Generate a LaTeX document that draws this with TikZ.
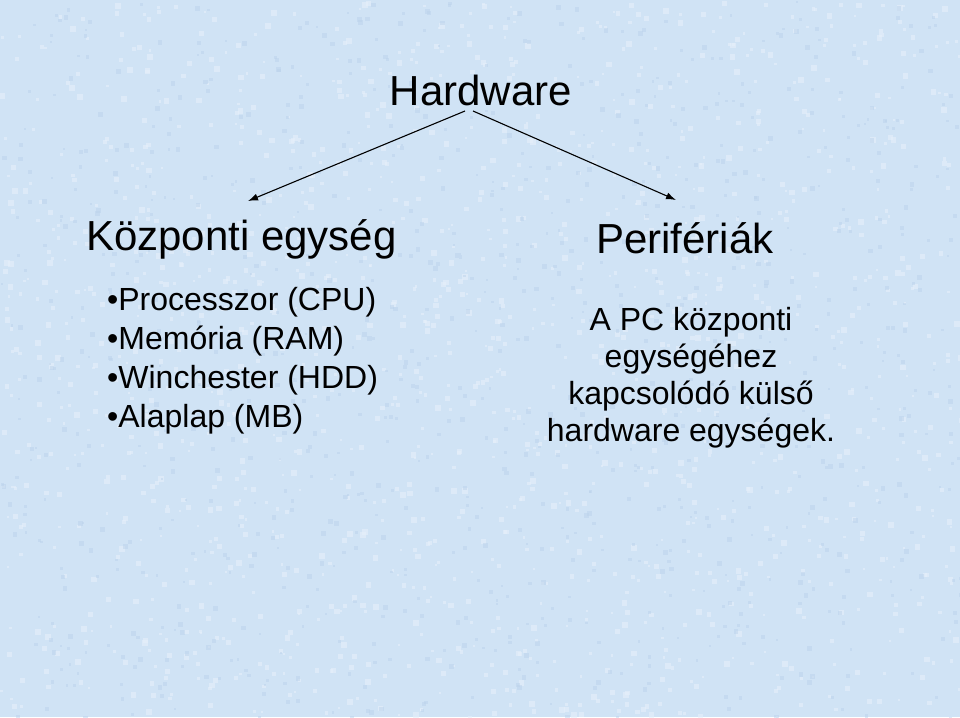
\documentclass[tikz,border=0pt]{standalone}
\usepackage{fontspec}
\setmainfont{Liberation Sans}
\usetikzlibrary{arrows.meta}
\definecolor{bgblue}{RGB}{208,227,245}
\definecolor{specklight}{RGB}{230,240,250}
\definecolor{speckdark}{RGB}{188,211,236}
\tikzset{
  big/.style={font=\fontsize{42}{48}\selectfont, inner sep=0pt, anchor=base west},
  item/.style={font=\fontsize{32}{39}\selectfont, inner sep=0pt, anchor=base west},
  para/.style={font=\fontsize{32}{37}\selectfont, inner sep=0pt, anchor=base, align=center},
  arr/.style={draw=black, line width=1.1pt, -{Latex[length=10pt,width=7pt]}}
}
\begin{document}
\begin{tikzpicture}[x=1pt,y=-1pt]
\useasboundingbox (0,0) rectangle (960,717);
\fill[bgblue] (0,0) rectangle (960,717);
\begin{scope}
\clip (0,0) rectangle (960,717);
\pgfmathsetseed{7}
\foreach \k in {1,...,1500}{
  \pgfmathsetmacro{\xx}{960*rnd}
  \pgfmathsetmacro{\yy}{717*rnd}
  \pgfmathsetmacro{\ss}{2+4*rnd}
  \fill[specklight, opacity=0.6] (\xx,\yy) rectangle ++(\ss,\ss);
}
\foreach \k in {1,...,1000}{
  \pgfmathsetmacro{\xx}{960*rnd}
  \pgfmathsetmacro{\yy}{717*rnd}
  \pgfmathsetmacro{\ss}{2+3*rnd}
  \fill[speckdark, opacity=0.5] (\xx,\yy) rectangle ++(\ss,\ss);
}
\end{scope}
\node[big, anchor=base] (hw) at (481,105) {Hardware};
\node[big] (koz) at (86,250) {Központi egység};
\node[big] (per) at (596,253) {Perifériák};
\node[item] (i1) at (107,310) {\textbullet Processzor (CPU)};
\node[item] (i2) at (107,349) {\textbullet Memória (RAM)};
\node[item] (i3) at (107,388) {\textbullet Winchester (HDD)};
\node[item] (i4) at (107,427) {\textbullet Alaplap (MB)};
\node[para] (p1) at (691,330) {A PC központi};
\node[para] (p2) at (691,367) {egységéhez};
\node[para] (p3) at (691,404) {kapcsolódó külső};
\node[para] (p4) at (691,441) {hardware egységek.};
\coordinate (hwl) at (465,111);
\coordinate (hwr) at (473,111);
\coordinate (kozt) at (248,201);
\coordinate (pert) at (676,200);
\draw[arr] (hwl) -- (kozt);
\draw[arr] (hwr) -- (pert);
\end{tikzpicture}
\end{document}
